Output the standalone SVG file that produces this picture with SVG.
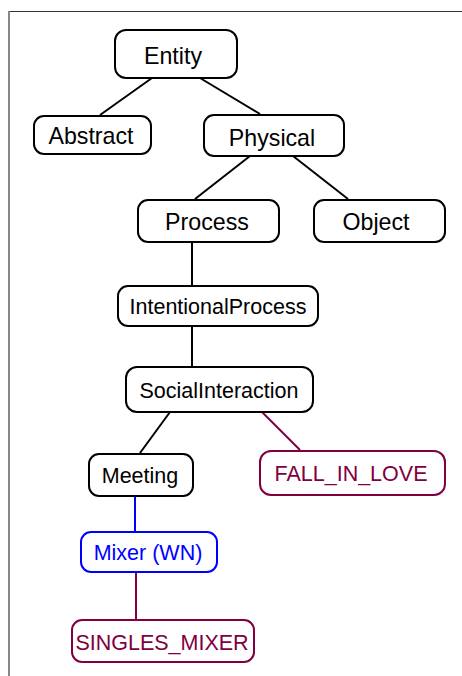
<svg xmlns="http://www.w3.org/2000/svg" width="462" height="676" viewBox="0 0 462 676">
<style>
.n rect{fill:#fff;stroke:#000;stroke-width:2}
.n text{font-family:"Liberation Sans",Arial,sans-serif;font-size:21.5px;text-anchor:middle;fill:#000}
.big text{font-size:23.2px}
.m rect{stroke:#800040}
.m text{fill:#800040}
.b rect{stroke:#0000ff}
.b text{fill:#0000ff}
#edges line{stroke:#000;stroke-width:2}
</style>
<rect width="462" height="676" fill="#fff"/>
<line x1="8" y1="11.5" x2="462" y2="11.5" stroke="#333" stroke-width="1"/>
<line x1="9" y1="11" x2="9" y2="676" stroke="#888" stroke-width="2"/>
<g id="edges">
<line x1="152" y1="78" x2="100" y2="115"/>
<line x1="200" y1="78" x2="260" y2="114"/>
<line x1="250" y1="156" x2="195" y2="199"/>
<line x1="293" y1="156" x2="348" y2="199"/>
<line x1="192" y1="242" x2="192" y2="286"/>
<line x1="192" y1="326" x2="192" y2="367"/>
<line x1="170" y1="412" x2="140" y2="453"/>
<line x1="261" y1="411" x2="300" y2="450" style="stroke:#800040"/>
<line x1="135" y1="496" x2="135" y2="532" style="stroke:#0000ff"/>
<line x1="136" y1="572" x2="136" y2="619" style="stroke:#800040"/>
</g>
<g id="entity" class="n big"><rect x="115" y="30" width="122" height="48" rx="11"/><text x="173" y="64">Entity</text></g>
<g id="abstract" class="n big"><rect x="34" y="116" width="117" height="38" rx="10"/><text x="91" y="144">Abstract</text></g>
<g id="physical" class="n big"><rect x="204" y="115" width="140" height="41" rx="10"/><text x="272" y="146">Physical</text></g>
<g id="process" class="n big"><rect x="138" y="200" width="141" height="42" rx="10"/><text x="207" y="230">Process</text></g>
<g id="object" class="n big"><rect x="314" y="200" width="131" height="42" rx="10"/><text x="376" y="230">Object</text></g>
<g id="intentionalprocess" class="n"><rect x="118" y="286" width="200" height="40" rx="10"/><text x="218" y="314">IntentionalProcess</text></g>
<g id="socialinteraction" class="n"><rect x="126" y="367" width="187" height="45" rx="11"/><text x="219" y="398">SocialInteraction</text></g>
<g id="meeting" class="n"><rect x="89" y="454" width="104" height="42" rx="10"/><text x="140" y="483">Meeting</text></g>
<g id="fall_in_love" class="n m"><rect x="260" y="451" width="185" height="44" rx="11"/><text x="351" y="481">FALL_IN_LOVE</text></g>
<g id="mixer_wn" class="n b"><rect x="81" y="532" width="136" height="40" rx="10"/><text x="148" y="560">Mixer (WN)</text></g>
<g id="singles_mixer" class="n m"><rect x="72" y="620" width="182" height="42" rx="10"/><text x="162" y="650">SINGLES_MIXER</text></g>
</svg>
